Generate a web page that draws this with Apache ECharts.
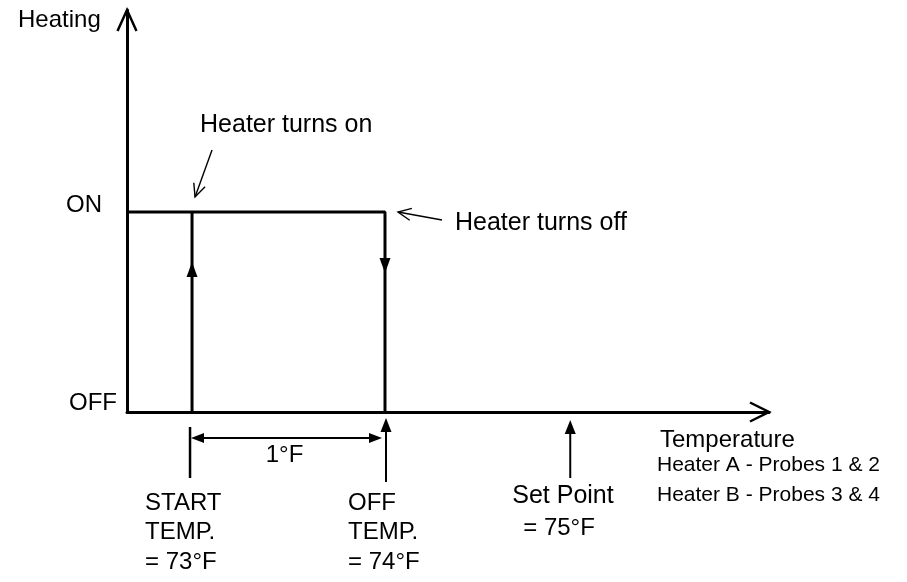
<!DOCTYPE html>
<html><head><meta charset="utf-8">
<script src="https://cdn.jsdelivr.net/npm/echarts@6/dist/echarts.min.js"></script>
<style>html,body{margin:0;padding:0;background:#fff}#c{width:907px;height:582px}</style>
</head><body><div id="c"></div>
<script>
// ---- data ----
const tempRange = [72.663, 75.99];        // temperature axis extent (°F)
const stateRange = [0, 2.01];             // heating axis extent
const stateLabels = { 0: 'OFF', 1: 'ON' };
const startTemp = 73;
const offTemp = 74;
const setPoint = 74.96;
const heatingOnPath = [[72.663, 1], [74, 1], [74, 0]];
const turnOnLine = [[73, 0], [73, 1]];
const startText = ['START', 'TEMP.', '= 73°F'];
const offText = ['OFF', 'TEMP.', '= 74°F'];
const setText = ['Set Point', '= 75°F'];
const spanText = '1°F';
const yTitle = 'Heating';
const xTitle = 'Temperature';
const probeNotes = ['Heater A - Probes 1 & 2', 'Heater B - Probes 3 & 4'];
const onNote = 'Heater turns on';
const offNote = 'Heater turns off';

// ---- chart ----
const FONT = '"Liberation Sans", Arial, sans-serif';
const chart = echarts.init(document.getElementById('c'), null, { renderer: 'canvas' });

function renderItem(params, api) {
  const P = (x, y) => api.coord([x, y]);
  const kids = [];
  const line = (pts, w) => kids.push({ type: 'polyline', shape: { points: pts }, style: { stroke: '#000', lineWidth: w, fill: null } });
  const head = (tip, dx, dy, L, W) => {
    const bx = tip[0] - L * dx, by = tip[1] - L * dy, nx = -dy, ny = dx;
    kids.push({ type: 'polygon', shape: { points: [tip, [bx + W * nx, by + W * ny], [bx - W * nx, by - W * ny]] }, style: { fill: '#000' } });
  };
  const chevron = (tip, dx, dy, L, W, w) => {
    const bx = tip[0] - L * dx, by = tip[1] - L * dy, nx = -dy, ny = dx;
    line([[bx + W * nx, by + W * ny], tip, [bx - W * nx, by - W * ny]], w);
  };
  const arrowLine = (tail, tip, L, W, w) => {
    line([tail, tip], w);
    const len = Math.hypot(tip[0] - tail[0], tip[1] - tail[1]);
    chevron(tip, (tip[0] - tail[0]) / len, (tip[1] - tail[1]) / len, L, W, w);
  };
  const txt = (s, x, y, size, align) => kids.push({ type: 'text', x: x, y: y, style: { text: s, fontSize: size, fontFamily: FONT, fill: '#000', align: align || 'left', verticalAlign: 'middle' } });

  const o = P(tempRange[0], 0);
  const top = P(tempRange[0], stateRange[1]);
  const right = P(tempRange[1], 0);
  const s = P(startTemp, 0), f = P(offTemp, 0), sp = P(setPoint, 0);
  const on = P(startTemp, 1), off = P(offTemp, 1);

  // axis arrowheads
  chevron(top, 0, -1, 21, 9.5, 2.5);
  chevron(right, 1, 0, 19, 9.5, 2.5);
  // direction arrows on the switching lines
  head(P(startTemp, 0.75), 0, -1, 15, 5.5);
  head(P(offTemp, 0.695), 0, 1, 15, 5.5);
  // below-axis markers
  line([[s[0] - 2, o[1] + 15], [s[0] - 2, o[1] + 66]], 2.5);
  const dy = o[1] + 26;
  line([[s[0] + 4, dy], [f[0] - 6, dy]], 2);
  head([s[0] - 1, dy], -1, 0, 13, 5);
  head([f[0] - 3, dy], 1, 0, 13, 5);
  line([[f[0] + 1, o[1] + 18], [f[0] + 1, o[1] + 70]], 2);
  head([f[0] + 1, o[1] + 6], 0, -1, 14, 5.5);
  line([[sp[0], o[1] + 20], [sp[0], o[1] + 66]], 2);
  head([sp[0], o[1] + 8], 0, -1, 14, 5.5);
  // annotation arrows
  arrowLine([on[0] + 20, on[1] - 62], [on[0] + 3, on[1] - 15], 13, 6, 1.4);
  arrowLine([off[0] + 57, off[1] + 8], [off[0] + 13, off[1]], 13, 6, 1.4);

  // texts
  txt(yTitle, o[0] - 109, top[1] + 10, 24);
  txt(spanText, (s[0] + f[0]) / 2 - 4, o[1] + 43, 24, 'center');
  startText.forEach((t, i) => txt(t, s[0] - 47, o[1] + 91 + i * 29.5, 24));
  offText.forEach((t, i) => txt(t, f[0] - 37, o[1] + 91 + i * 29.5, 24));
  txt(setText[0], sp[0] - 58, o[1] + 84, 25);
  txt(setText[1], sp[0] - 47, o[1] + 116, 24);
  txt(xTitle, right[0] - 109, o[1] + 28.5, 24);
  probeNotes.forEach((t, i) => txt(t, right[0] - 112, o[1] + 53.5 + i * 30, 21));
  txt(onNote, on[0] + 8, on[1] - 87, 25);
  txt(offNote, off[0] + 70, off[1] + 11.5, 25);

  return { type: 'group', children: kids };
}

chart.setOption({
  animation: false,
  backgroundColor: '#fff',
  grid: { left: 127, right: 138, top: 10, bottom: 170, containLabel: false },
  xAxis: {
    type: 'value', min: tempRange[0], max: tempRange[1],
    axisLine: { show: true, lineStyle: { color: '#000', width: 3 } },
    axisTick: { show: false }, axisLabel: { show: false }, splitLine: { show: false }
  },
  yAxis: {
    type: 'value', min: stateRange[0], max: stateRange[1], interval: 1,
    axisLine: { show: true, lineStyle: { color: '#000', width: 3 } },
    axisTick: { show: false }, splitLine: { show: false },
    axisLabel: {
      show: true, margin: 10, showMaxLabel: false,
      formatter: v => v === 1 ? '{on|' + stateLabels[1] + '}' : v === 0 ? '{off|' + stateLabels[0] + '}' : '',
      rich: {
        on: { fontSize: 24, fontFamily: FONT, color: '#000', padding: [0, 15, 13, 0] },
        off: { fontSize: 24, fontFamily: FONT, color: '#000', padding: [0, 0, 17, 0] }
      }
    }
  },
  series: [
    { type: 'line', data: heatingOnPath, symbol: 'none', lineStyle: { color: '#000', width: 3 }, z: 3 },
    { type: 'line', data: turnOnLine, symbol: 'none', lineStyle: { color: '#000', width: 3 }, z: 3 },
    { type: 'custom', data: [[tempRange[0], 0]], renderItem: renderItem, clip: false, silent: true, z: 4 }
  ]
});
</script></body></html>
